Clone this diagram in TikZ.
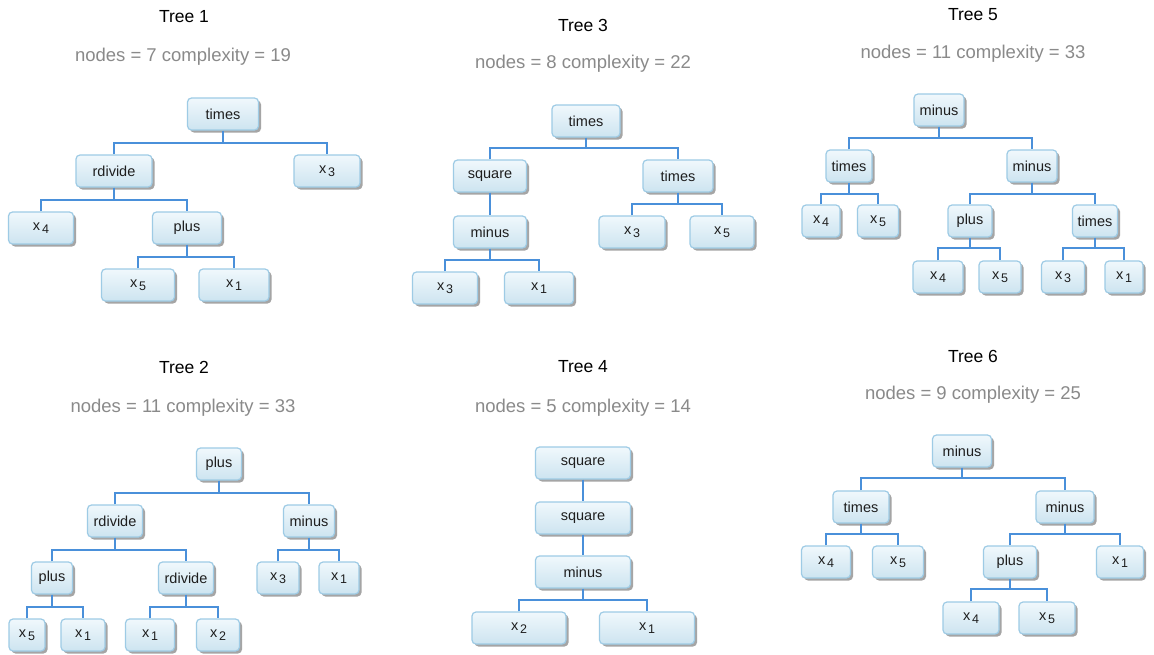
\documentclass[tikz,border=0pt]{standalone}
\usepackage{fontspec}
\setmainfont{Liberation Sans}
\usetikzlibrary{shadows}
\definecolor{boxtop}{HTML}{F0F8FC}
\definecolor{boxbot}{HTML}{CDE4F0}
\definecolor{boxline}{HTML}{9ECBE5}
\definecolor{connc}{HTML}{4A90DA}
\definecolor{subgray}{HTML}{8A8A8A}
\definecolor{txt}{HTML}{1E1E1E}
\tikzset{
  box/.style={rectangle, rounded corners=4pt, draw=boxline, line width=1.2pt,
    top color=boxtop, bottom color=boxbot, minimum height=32pt, inner sep=0pt,
    text=txt, font=\fontsize{14.5}{16}\selectfont,
    drop shadow={shadow xshift=2.5pt, shadow yshift=-2.5pt, opacity=0.5, fill=black!70}},
  conn/.style={draw=connc, line width=1.3pt},
  title/.style={font=\fontsize{17.5}{20}\selectfont, text=black},
  subtitle/.style={font=\fontsize{18.5}{21}\selectfont, text=subgray}
}
\newcommand{\xs}[1]{x\kern1.8pt\raisebox{-3.5pt}{\fontsize{12.5}{13}\selectfont #1}}
\newcommand{\forktwo}[4]{%
  \draw[conn] (#1.south) -- (#1.south |- 0,#4);
  \draw[conn] (#2.north) |- (#1.south |- 0,#4) -| (#3.north);}
\begin{document}
\begin{tikzpicture}[x=1pt,y=-1pt]
\useasboundingbox (0,0) rectangle (1154,654);
\fill[white] (0,0) rectangle (1154,654);

% ---------------- Tree 1
\node[title] (T1) at (184,17) {Tree 1};
\node[subtitle] (S1) at (183,57) {nodes = 7 complexity = 19};
\node[box, minimum width=71] (a1) at (223,114) {times};
\node[box, minimum width=76] (a2) at (114,171) {rdivide};
\node[box, minimum width=66] (a3) at (327,171) {\xs{3}};
\node[box, minimum width=65] (a4) at (41,228) {\xs{4}};
\node[box, minimum width=69] (a5) at (187,228) {plus};
\node[box, minimum width=73] (a6) at (138,285) {\xs{5}};
\node[box, minimum width=70] (a7) at (234,285) {\xs{1}};
\forktwo{a1}{a2}{a3}{143}
\forktwo{a2}{a4}{a5}{200}
\forktwo{a5}{a6}{a7}{257}

% ---------------- Tree 3
\node[title] (T3) at (583,25) {Tree 3};
\node[subtitle] (S3) at (583,64) {nodes = 8 complexity = 22};
\node[box, minimum width=68] (c1) at (586,121) {times};
\node[box, minimum width=73] (c2) at (490,176) {square};
\node[box, minimum width=70] (c3) at (678,176) {times};
\node[box, minimum width=73] (c4) at (490,232) {minus};
\node[box, minimum width=66] (c5) at (632,232) {\xs{3}};
\node[box, minimum width=64] (c6) at (722,232) {\xs{5}};
\node[box, minimum width=65] (c7) at (445,288) {\xs{3}};
\node[box, minimum width=69] (c8) at (539,288) {\xs{1}};
\forktwo{c1}{c2}{c3}{148}
\draw[conn] (c2.south) -- (c4.north);
\forktwo{c3}{c5}{c6}{204}
\forktwo{c4}{c7}{c8}{260}

% ---------------- Tree 5
\node[title] (T5) at (973,15) {Tree 5};
\node[subtitle] (S5) at (973,54) {nodes = 11 complexity = 33};
\node[box, minimum width=50] (e1) at (939,110) {minus};
\node[box, minimum width=46] (e2) at (849,166) {times};
\node[box, minimum width=50] (e3) at (1032,166) {minus};
\node[box, minimum width=38] (e4) at (821,221) {\xs{4}};
\node[box, minimum width=41] (e5) at (878,221) {\xs{5}};
\node[box, minimum width=44] (e6) at (970,221) {plus};
\node[box, minimum width=45] (e7) at (1095,221) {times};
\node[box, minimum width=50] (e8) at (938,277) {\xs{4}};
\node[box, minimum width=42] (e9) at (1000,277) {\xs{5}};
\node[box, minimum width=43] (e10) at (1063,277) {\xs{3}};
\node[box, minimum width=38] (e11) at (1124,277) {\xs{1}};
\forktwo{e1}{e2}{e3}{138}
\forktwo{e2}{e4}{e5}{194}
\forktwo{e3}{e6}{e7}{194}
\forktwo{e6}{e8}{e9}{248}
\forktwo{e7}{e10}{e11}{248}

% ---------------- Tree 2
\node[title] (T2) at (184,367) {Tree 2};
\node[subtitle] (S2) at (183,408) {nodes = 11 complexity = 33};
\node[box, minimum width=45] (b1) at (219,464) {plus};
\node[box, minimum width=55] (b2) at (115,521) {rdivide};
\node[box, minimum width=51] (b3) at (309,521) {minus};
\node[box, minimum width=41] (b4) at (52,578) {plus};
\node[box, minimum width=55] (b5) at (186,578) {rdivide};
\node[box, minimum width=42] (b6) at (278,578) {\xs{3}};
\node[box, minimum width=40] (b7) at (339,578) {\xs{1}};
\node[box, minimum width=36] (b8) at (27,635) {\xs{5}};
\node[box, minimum width=44] (b9) at (83,635) {\xs{1}};
\node[box, minimum width=49] (b10) at (150,635) {\xs{1}};
\node[box, minimum width=43] (b11) at (218,635) {\xs{2}};
\forktwo{b1}{b2}{b3}{493}
\forktwo{b2}{b4}{b5}{550}
\forktwo{b3}{b6}{b7}{550}
\forktwo{b4}{b8}{b9}{607}
\forktwo{b5}{b10}{b11}{607}

% ---------------- Tree 4
\node[title] (T4) at (583,367) {Tree 4};
\node[subtitle] (S4) at (583,408) {nodes = 5 complexity = 14};
\node[box, minimum width=95] (d1) at (583,463) {square};
\node[box, minimum width=95] (d2) at (583,518) {square};
\node[box, minimum width=95] (d3) at (583,572) {minus};
\node[box, minimum width=94] (d4) at (519,628) {\xs{2}};
\node[box, minimum width=95] (d5) at (647,628) {\xs{1}};
\draw[conn] (d1.south) -- (d2.north);
\draw[conn] (d2.south) -- (d3.north);
\forktwo{d3}{d4}{d5}{600}

% ---------------- Tree 6
\node[title] (T6) at (973,356) {Tree 6};
\node[subtitle] (S6) at (973,395) {nodes = 9 complexity = 25};
\node[box, minimum width=59] (f1) at (962,451) {minus};
\node[box, minimum width=56] (f2) at (861,507) {times};
\node[box, minimum width=58] (f3) at (1065,507) {minus};
\node[box, minimum width=49] (f4) at (826,562) {\xs{4}};
\node[box, minimum width=51] (f5) at (898,562) {\xs{5}};
\node[box, minimum width=53] (f6) at (1010,562) {plus};
\node[box, minimum width=47] (f7) at (1120,562) {\xs{1}};
\node[box, minimum width=56] (f8) at (971,618) {\xs{4}};
\node[box, minimum width=56] (f9) at (1047,618) {\xs{5}};
\forktwo{f1}{f2}{f3}{478}
\forktwo{f2}{f4}{f5}{534}
\forktwo{f3}{f6}{f7}{534}
\forktwo{f6}{f8}{f9}{589}
\end{tikzpicture}
\end{document}
